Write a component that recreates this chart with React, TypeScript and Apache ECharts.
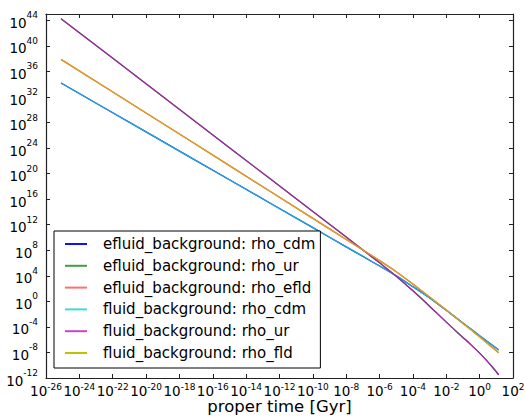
import React, { useEffect, useRef } from "react";
import * as echarts from "echarts";

// log10 of proper time [Gyr]
const logTime = [-25.1, -20, -15, -10, -8, -7, -6, -5, -4, -3, -2, -1, -0.5, 0, 0.4, 0.8, 1.14];
// log10 of densities
const logRhoCdm = [34.19, 26.54, 19.04, 11.54, 8.54, 7.04, 5.54, 4.0, 2.3, 0.55, -1.4, -3.38, -4.38, -5.38, -6.18, -6.95, -7.62];
const logRhoUr = [44.27, 34.07, 24.07, 14.07, 10.07, 8.06, 6.03, 3.95, 1.65, -0.75, -3.25, -5.65, -6.85, -8.1, -9.2, -10.4, -11.5];
const logRhoFld = [37.9, 29.5, 21.25, 13.0, 9.7, 8.05, 6.38, 4.65, 2.7, 0.7, -1.35, -3.45, -4.5, -5.55, -6.45, -7.3, -8.04];

const seriesNames = [
  "efluid_background: rho_cdm",
  "efluid_background: rho_ur",
  "efluid_background: rho_efld",
  "fluid_background: rho_cdm",
  "fluid_background: rho_ur",
  "fluid_background: rho_fld",
];
const seriesData = [logRhoCdm, logRhoUr, logRhoFld, logRhoCdm, logRhoUr, logRhoFld];
const lineColors = ["#2a3fd0", "#3c8f3c", "#e05050", "#1ea2dd", "#a324a8", "#d9a31c"];
const legendColors = ["#1010ff", "#40a040", "#ff7070", "#40d8d8", "#cc40cc", "#c0c000"];

const xMin = -26, xMax = 2, xStep = 2;
const yMin = -12, yMax = 45, yStep = 4;

const FONT = "DejaVu Sans";

export default function App() {
  const ref = useRef<HTMLDivElement>(null);
  useEffect(() => {
    if (!ref.current) return;
    const chart = echarts.init(ref.current, undefined, { renderer: "svg" });
    const richX = {
      b: { fontFamily: FONT, fontSize: 13.5, color: "#000", verticalAlign: "bottom", lineHeight: 16 },
      s: { fontFamily: FONT, fontSize: 9, color: "#000", verticalAlign: "top", lineHeight: 16 },
    };
    const richY = {
      b: { fontFamily: FONT, fontSize: 13.5, color: "#000", verticalAlign: "bottom", lineHeight: 19 },
      s: { fontFamily: FONT, fontSize: 9, color: "#000", verticalAlign: "top", lineHeight: 19 },
    };
    const axisLine = { show: true, onZero: false, lineStyle: { color: "#222", width: 1.2 } };
    const tick = { show: true, inside: true, length: 4, lineStyle: { color: "#222", width: 1 } };
    chart.setOption({
      animation: false,
      backgroundColor: "#fff",
      grid: { left: 46, top: 14, width: 467, height: 364, containLabel: false, outerBoundsMode: "none" },
      xAxis: [
        {
          type: "value",
          min: xMin,
          max: xMax,
          interval: xStep,
          position: "bottom",
          axisLine,
          axisTick: tick,
          splitLine: { show: false },
          axisLabel: {
            margin: 4,
            hideOverlap: false,
            showMinLabel: true,
            showMaxLabel: true,
            formatter: (v: number) => (v % xStep === 0 ? `{b|10}{s|${v}}` : ""),
            rich: richX,
          },
          name: "proper time [Gyr]",
          nameLocation: "middle",
          nameGap: 20,
          nameMoveOverlap: false,
          nameTextStyle: { fontFamily: FONT, fontSize: 16.5, color: "#000", lineHeight: 17, verticalAlign: "top" },
        },
        {
          type: "value",
          min: xMin,
          max: xMax,
          interval: xStep,
          position: "top",
          axisLine,
          axisTick: tick,
          splitLine: { show: false },
          axisLabel: { show: false },
        },
      ],
      yAxis: [
        {
          type: "value",
          min: yMin,
          max: yMax,
          interval: yStep,
          position: "left",
          axisLine,
          axisTick: tick,
          splitLine: { show: false },
          axisLabel: {
            margin: 8,
            hideOverlap: false,
            formatter: (v: number) => (v % yStep === 0 ? `{b|10}{s|${v}}` : ""),
            rich: richY,
          },
        },
        {
          type: "value",
          min: yMin,
          max: yMax,
          interval: yStep,
          position: "right",
          axisLine,
          axisTick: tick,
          splitLine: { show: false },
          axisLabel: { show: false },
        },
      ],
      legend: {
        orient: "vertical",
        left: 54,
        top: 231,
        padding: [4, 5, 6, 11],
        itemGap: 3.8,
        itemWidth: 22,
        itemHeight: 2,
        icon: "rect",
        backgroundColor: "#fff",
        borderColor: "#000",
        borderWidth: 1,
        textStyle: { fontFamily: FONT, fontSize: 15, color: "#000", lineHeight: 18, padding: [0, 0, 0, 11] },
        data: seriesNames.map((n, i) => ({ name: n, itemStyle: { color: legendColors[i] } })),
      },
      series: seriesNames.map((n, i) => ({
        name: n,
        type: "line",
        xAxisIndex: 0,
        yAxisIndex: 0,
        showSymbol: false,
        symbol: "none",
        smooth: 0.3,
        color: lineColors[i],
        lineStyle: { color: lineColors[i], width: 1.3 },
        data: logTime.map((t, j) => [t, seriesData[i][j]]),
        z: i < 3 ? 2 : 3,
      })),
    });
    return () => chart.dispose();
  }, []);
  return (
    <div
      ref={ref}
      style={{ position: "fixed", left: 0, top: 0, width: 525, height: 418, background: "#fff" }}
    />
  );
}
